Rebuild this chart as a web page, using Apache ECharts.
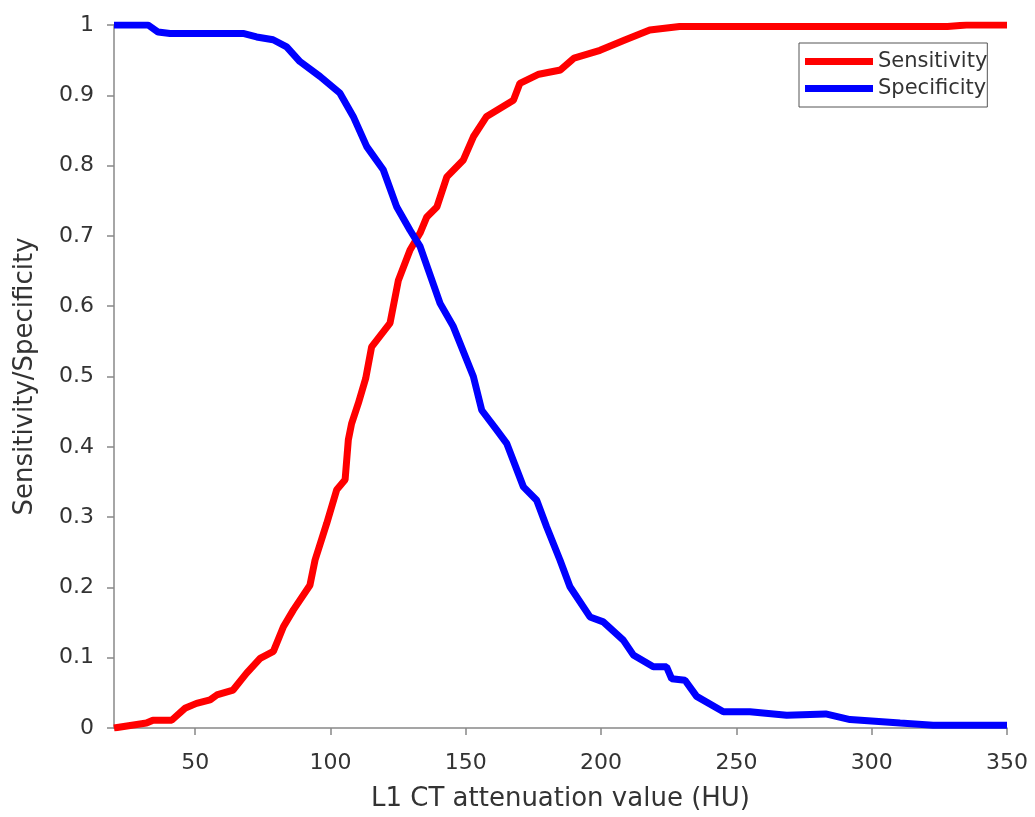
<!DOCTYPE html>
<html>
<head>
<meta charset="utf-8">
<script src="https://cdn.jsdelivr.net/npm/echarts@6/dist/echarts.min.js"></script>
<style>
  html, body { margin: 0; padding: 0; background: #fff; }
  #chart { width: 1035px; height: 817px; }
</style>
</head>
<body>
<div id="chart"></div>
<script>
// values
var sensX = [20, 32, 34.4, 41.3, 46.2, 50.5, 55.5, 58, 64, 69, 74, 78.9, 82.6, 86.3, 92.4, 94.3, 98.6, 102.3, 105.4, 106.6, 107.8, 110.3, 113, 115.2, 122, 125.1, 129.4, 133.1, 135.6, 139.3, 143, 149.1, 152.8, 157.7, 167.6, 170, 177, 185, 190, 199.6, 209, 218, 229, 260, 300, 328, 335, 350];
var sensY = [0, 0.007, 0.011, 0.011, 0.028, 0.035, 0.04, 0.047, 0.054, 0.078, 0.099, 0.109, 0.144, 0.168, 0.203, 0.239, 0.291, 0.339, 0.353, 0.41, 0.433, 0.462, 0.497, 0.542, 0.576, 0.637, 0.68, 0.704, 0.727, 0.741, 0.784, 0.808, 0.841, 0.87, 0.893, 0.917, 0.93, 0.936, 0.953, 0.964, 0.979, 0.993, 0.998, 0.998, 0.998, 0.998, 1, 1];

var specX = [20, 32.6, 36.3, 40.7, 51.8, 67.7, 72.7, 78.8, 83.8, 88.7, 96.1, 103.5, 108.4, 113.4, 119.5, 124.5, 129.4, 133.1, 140.5, 145.4, 152.8, 155.9, 161.4, 165.1, 171.3, 176.2, 179.9, 184.8, 188.5, 195.9, 200.8, 208.2, 211.9, 219.3, 224.2, 226.1, 231, 235.3, 245.2, 255, 268.6, 283, 292, 310.5, 322.7, 350];
var specY = [1, 1, 0.99, 0.988, 0.988, 0.988, 0.983, 0.979, 0.969, 0.948, 0.927, 0.903, 0.87, 0.827, 0.794, 0.741, 0.708, 0.685, 0.604, 0.571, 0.5, 0.452, 0.424, 0.405, 0.343, 0.324, 0.286, 0.239, 0.201, 0.158, 0.151, 0.125, 0.104, 0.087, 0.087, 0.07, 0.068, 0.045, 0.023, 0.023, 0.018, 0.02, 0.012, 0.007, 0.004, 0.004];

var xTicks = [50, 100, 150, 200, 250, 300, 350];

function pairs(xs, ys) {
    var out = [];
    for (var i = 0; i < xs.length; i++) out.push([xs[i], ys[i]]);
    return out;
}

var chart = echarts.init(document.getElementById('chart'));
var fontFam = 'DejaVu Sans';

var option = {
    backgroundColor: '#fff',
    animation: false,
    textStyle: { fontFamily: fontFam },
    grid: { left: 114, right: 28, top: 25, bottom: 89, containLabel: false },
    legend: {
        orient: 'vertical',
        left: 799,
        top: 43,
        padding: [8, 0, 8, 6],
        itemGap: 6,
        itemWidth: 68,
        itemHeight: 7,
        borderColor: '#555',
        borderWidth: 1,
        textStyle: { color: '#333', fontSize: 21, fontFamily: fontFam, padding: [0, 0, 0, 0] },
        data: [
            { name: 'Sensitivity', icon: 'rect' },
            { name: 'Specificity', icon: 'rect' }
        ]
    },
    xAxis: {
        type: 'value',
        min: 20,
        max: 350,
        name: 'L1 CT attenuation value (HU)',
        nameLocation: 'middle',
        nameGap: 58,
        nameTextStyle: { color: '#333', fontSize: 26, fontFamily: fontFam },
        axisLine: { show: true, lineStyle: { color: '#888', width: 1.5 } },
        axisTick: { show: true, length: 7, customValues: xTicks, lineStyle: { color: '#888', width: 1.5 } },
        axisLabel: { customValues: xTicks, color: '#333', fontSize: 22, margin: 24, fontFamily: fontFam },
        splitLine: { show: false }
    },
    yAxis: {
        type: 'value',
        min: 0,
        max: 1,
        interval: 0.1,
        name: 'Sensitivity/Specificity',
        nameLocation: 'middle',
        nameGap: 76,
        nameTextStyle: { color: '#333', fontSize: 26, fontFamily: fontFam },
        axisLine: { show: true, lineStyle: { color: '#888', width: 1.5 } },
        axisTick: { show: true, length: 7, lineStyle: { color: '#888', width: 1.5 } },
        axisLabel: { color: '#333', fontSize: 22, margin: 20, fontFamily: fontFam },
        splitLine: { show: false }
    },
    series: [
        {
            name: 'Sensitivity',
            type: 'line',
            showSymbol: false,
            symbol: 'none',
            color: '#ff0000',
            lineStyle: { width: 7, color: '#ff0000' },
            data: pairs(sensX, sensY)
        },
        {
            name: 'Specificity',
            type: 'line',
            showSymbol: false,
            symbol: 'none',
            color: '#0000ff',
            lineStyle: { width: 7, color: '#0000ff' },
            data: pairs(specX, specY)
        }
    ]
};

chart.setOption(option);
</script>
</body>
</html>
